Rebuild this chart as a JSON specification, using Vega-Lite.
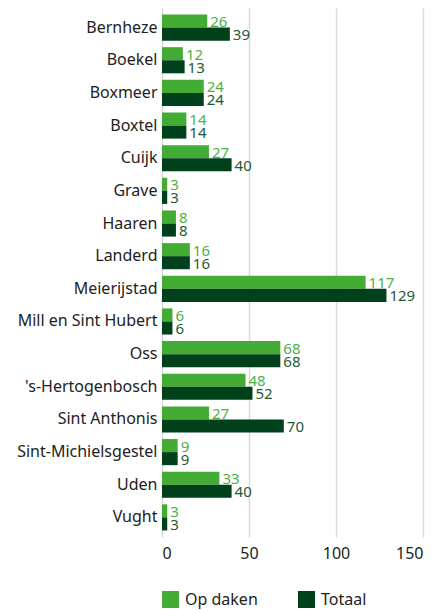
{
  "$schema": "https://vega.github.io/schema/vega-lite/v6.json",
  "width": 261,
  "height": 529,
  "autosize": {"type": "none"},
  "padding": {"left": 162, "top": 8, "right": 15, "bottom": 73},
  "background": "white",
  "config": {
    "font": "Noto Sans",
    "view": {"stroke": null},
    "axis": {"labelFont": "Noto Sans", "labelColor": "#222222"}
  },
  "data": {"values": [
    {"name": "Bernheze", "type": "Op daken", "value": 26},
    {"name": "Bernheze", "type": "Totaal", "value": 39},
    {"name": "Boekel", "type": "Op daken", "value": 12},
    {"name": "Boekel", "type": "Totaal", "value": 13},
    {"name": "Boxmeer", "type": "Op daken", "value": 24},
    {"name": "Boxmeer", "type": "Totaal", "value": 24},
    {"name": "Boxtel", "type": "Op daken", "value": 14},
    {"name": "Boxtel", "type": "Totaal", "value": 14},
    {"name": "Cuijk", "type": "Op daken", "value": 27},
    {"name": "Cuijk", "type": "Totaal", "value": 40},
    {"name": "Grave", "type": "Op daken", "value": 3},
    {"name": "Grave", "type": "Totaal", "value": 3},
    {"name": "Haaren", "type": "Op daken", "value": 8},
    {"name": "Haaren", "type": "Totaal", "value": 8},
    {"name": "Landerd", "type": "Op daken", "value": 16},
    {"name": "Landerd", "type": "Totaal", "value": 16},
    {"name": "Meierijstad", "type": "Op daken", "value": 117},
    {"name": "Meierijstad", "type": "Totaal", "value": 129},
    {"name": "Mill en Sint Hubert", "type": "Op daken", "value": 6},
    {"name": "Mill en Sint Hubert", "type": "Totaal", "value": 6},
    {"name": "Oss", "type": "Op daken", "value": 68},
    {"name": "Oss", "type": "Totaal", "value": 68},
    {"name": "'s-Hertogenbosch", "type": "Op daken", "value": 48},
    {"name": "'s-Hertogenbosch", "type": "Totaal", "value": 52},
    {"name": "Sint Anthonis", "type": "Op daken", "value": 27},
    {"name": "Sint Anthonis", "type": "Totaal", "value": 70},
    {"name": "Sint-Michielsgestel", "type": "Op daken", "value": 9},
    {"name": "Sint-Michielsgestel", "type": "Totaal", "value": 9},
    {"name": "Uden", "type": "Op daken", "value": 33},
    {"name": "Uden", "type": "Totaal", "value": 40},
    {"name": "Vught", "type": "Op daken", "value": 3},
    {"name": "Vught", "type": "Totaal", "value": 3}
  ]},
  "encoding": {
    "y": {
      "field": "name", "type": "nominal", "sort": null, "title": null,
      "scale": {"paddingInner": 0.2, "paddingOuter": 0.2},
      "axis": {"ticks": false, "domain": false, "labelFontSize": 16, "labelPadding": 5}
    },
    "yOffset": {"field": "type", "type": "nominal", "sort": ["Op daken", "Totaal"]},
    "x": {
      "field": "value", "type": "quantitative", "title": null,
      "scale": {"domain": [0, 150]},
      "axis": {"values": [0, 50, 100, 150], "ticks": false, "domain": false, "labelFontSize": 16, "labelPadding": 8, "gridColor": "#d9d9d9", "gridWidth": 1.5}
    }
  },
  "layer": [
    {
      "mark": {"type": "bar"},
      "encoding": {
        "color": {
          "field": "type", "type": "nominal", "title": null,
          "scale": {"domain": ["Op daken", "Totaal"], "range": ["#43AC34", "#00411B"]},
          "legend": {"orient": "bottom", "direction": "horizontal", "symbolType": "square", "symbolSize": 289, "symbolStrokeWidth": 0, "labelFontSize": 16, "labelColor": "#222222", "columnPadding": 40, "labelOffset": 6, "offset": 30}
        }
      }
    },
    {
      "mark": {"type": "text", "align": "left", "baseline": "middle", "dx": 3, "dy": 1, "fontSize": 15},
      "encoding": {
        "text": {"field": "value", "type": "quantitative"},
        "color": {
          "field": "type", "type": "nominal",
          "scale": {"domain": ["Op daken", "Totaal"], "range": ["#4DB04A", "#1F5A33"]},
          "legend": null
        }
      }
    }
  ],
  "resolve": {"scale": {"color": "independent"}}
}
